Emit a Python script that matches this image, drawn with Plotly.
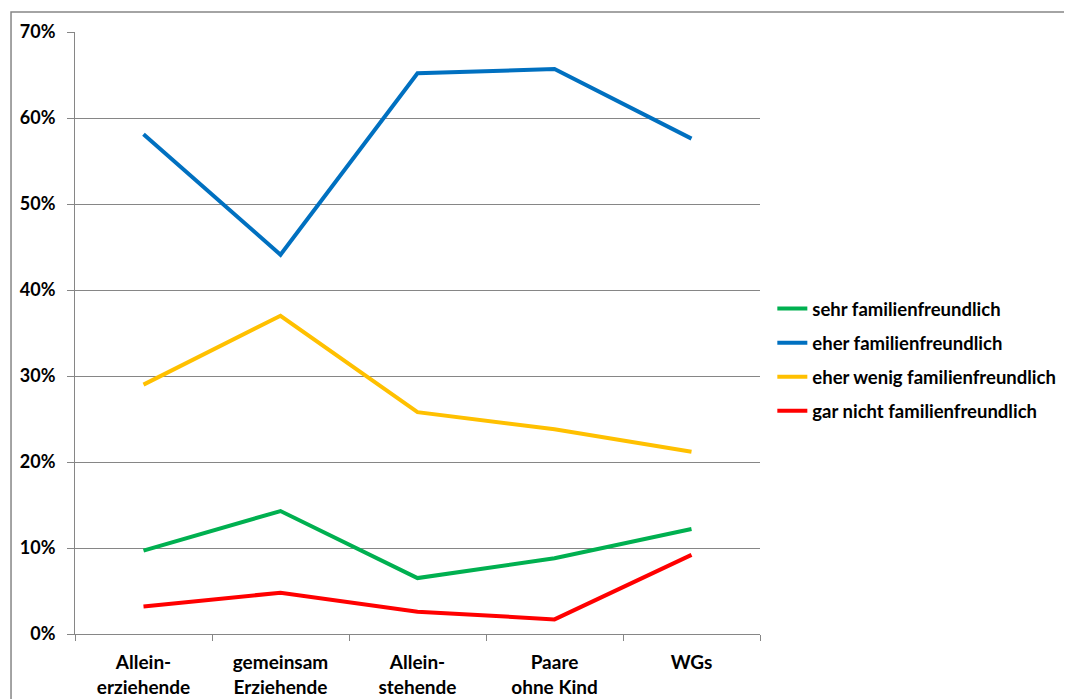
import plotly.graph_objects as go

categories = ["Allein-<br>erziehende", "gemeinsam<br>Erziehende", "Allein-<br>stehende", "Paare<br>ohne Kind", "WGs"]
series_names = ["sehr familienfreundlich", "eher familienfreundlich",
                "eher wenig familienfreundlich", "gar nicht familienfreundlich"]
sehr = [0.097, 0.143, 0.065, 0.088, 0.122]
eher = [0.581, 0.441, 0.652, 0.657, 0.576]
eher_wenig = [0.290, 0.370, 0.258, 0.238, 0.212]
gar_nicht = [0.032, 0.048, 0.026, 0.017, 0.092]
colors = ["#00B050", "#0070C0", "#FFC000", "#FF0000"]

fig = go.Figure()
for i, (name, vals) in enumerate(zip(series_names, [sehr, eher, eher_wenig, gar_nicht])):
    fig.add_trace(go.Scatter(x=categories, y=vals, mode="lines", name=name,
                             legendgroup=f"g{i}",
                             line=dict(color=colors[i], width=4)))

font = dict(family="Lato", size=19, color="#000000", weight="bold")
lfont = dict(family="Lato", size=18.5, color="#000000", weight="bold")
yfont = dict(family="Lato", size=18, color="#000000", weight="bold")

# page body adds an 8px offset; margins compensate
fig.update_layout(
    width=1072, height=699,
    margin=dict(l=67, r=320, t=24, b=73, autoexpand=False),
    paper_bgcolor="white", plot_bgcolor="white",
    font=font,
    showlegend=True,
    legend=dict(x=1.018, y=0.455, xanchor="left", yanchor="middle",
                font=lfont, itemwidth=30, tracegroupgap=7,
                traceorder="grouped", bgcolor="rgba(0,0,0,0)"),
    xaxis=dict(range=[-0.5, 4.5], showline=True, linecolor="#868686", linewidth=1,
               ticks="outside", tickson="boundaries", ticklen=6, tickcolor="#868686",
               showgrid=False, tickfont=font, fixedrange=True, automargin=False,
               ticklabelstandoff=11),
    yaxis=dict(range=[0, 0.7], dtick=0.1, tickformat=".0%",
               showline=True, linecolor="#868686", linewidth=1,
               ticks="outside", ticklen=7, tickcolor="#868686",
               showgrid=True, gridcolor="#868686", gridwidth=1,
               zeroline=False, tickfont=yfont, automargin=False,
               ticklabelstandoff=8),
    shapes=[dict(type="rect", xref="paper", yref="paper",
                 x0=-0.0934, x1=1.6, y0=-0.3, y1=1.0332,
                 line=dict(color="#868686", width=1.5), layer="below")],
)

fig.write_html("out.html")
